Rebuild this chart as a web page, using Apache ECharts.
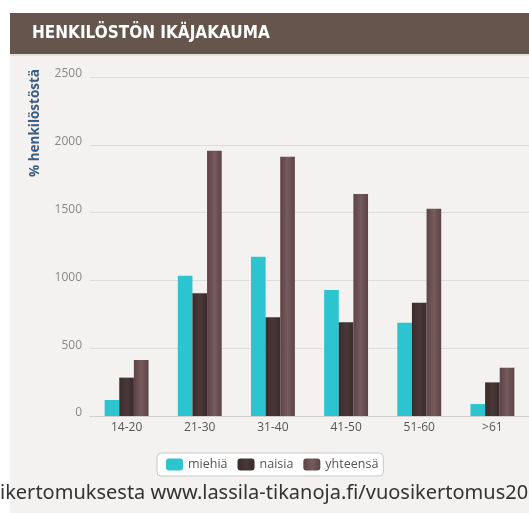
<!DOCTYPE html>
<html>
<head>
<meta charset="utf-8">
<script src="https://cdn.jsdelivr.net/npm/echarts@6/dist/echarts.min.js"></script>
<style>html,body{margin:0;padding:0;background:#fff;}#c{width:529px;height:513px;}</style>
</head>
<body>
<div id="c"></div>
<script>
const categories = ['14-20', '21-30', '31-40', '41-50', '51-60', '>61'];
const miehia = [118, 1035, 1175, 929, 688, 88];
const naisia = [283, 905, 728, 691, 836, 248];
const yhteensa = [413, 1957, 1912, 1637, 1529, 356];
const yTicks = { min: 0, max: 2500, interval: 500 };
const titleText = 'HENKILÖSTÖN IKÄJAKAUMA';
const axisTitle = '% henkilöstöstä';
const captionText = 'ikertomuksesta www.lassila-tikanoja.fi/vuosikertomus20';

function grad(a, b, c) {
  return new echarts.graphic.LinearGradient(0, 0, 1, 0, [
    { offset: 0, color: a }, { offset: 0.5, color: b }, { offset: 1, color: c }
  ]);
}

const chart = echarts.init(document.getElementById('c'), null, { renderer: 'canvas' });
chart.setOption({
  animation: false,
  backgroundColor: '#ffffff',
  graphic: [
    { type: 'rect', z: -10, shape: { x: 10, y: 54, width: 519, height: 459 }, style: { fill: '#f4f2f0' } },
    { type: 'rect', z: -5, shape: { x: 10, y: 13, width: 519, height: 41 }, style: { fill: '#65554c' } },
    { type: 'rect', z: -5, shape: { x: 10, y: 54, width: 519, height: 2 }, style: { fill: '#e4e0dc' } },
    { type: 'text', z: 10, x: 32, y: 34, style: { text: titleText, fill: '#ffffff', font: 'bold 17px "DejaVu Sans Condensed", "Liberation Sans Narrow", sans-serif', textVerticalAlign: 'middle' } },
    { type: 'text', z: 10, x: 35, y: 177, rotation: Math.PI / 2, style: { text: axisTitle, fill: '#3b5d82', font: 'bold 13.5px "Open Sans", sans-serif', textVerticalAlign: 'middle' } },
    { type: 'text', z: 10, x: 0, y: 493, style: { text: captionText, fill: '#333333', font: '20px "Noto Sans", sans-serif', textVerticalAlign: 'middle' } }
  ],
  legend: {
    left: 157, top: 453,
    data: ['miehiä', 'naisia', 'yhteensä'],
    icon: 'roundRect',
    itemWidth: 17, itemHeight: 12, itemGap: 10,
    backgroundColor: '#ffffff', borderColor: '#c8c8c8', borderWidth: 1, borderRadius: 4,
    padding: [5, 5, 5, 9],
    textStyle: { color: '#555', fontSize: 12.5, fontFamily: '"Open Sans", sans-serif' }
  },
  grid: { left: 90, right: -1, top: 77, bottom: 97 },
  xAxis: {
    type: 'category', data: categories,
    axisLine: { lineStyle: { color: '#cfcfcf' } },
    axisTick: { show: false },
    axisLabel: { color: '#555', fontSize: 12, fontFamily: '"Open Sans", sans-serif', margin: 6 }
  },
  yAxis: {
    type: 'value', min: yTicks.min, max: yTicks.max, interval: yTicks.interval,
    axisLine: { show: false }, axisTick: { show: false },
    axisLabel: { color: '#888', fontSize: 12, fontFamily: '"Open Sans", sans-serif', margin: 8, verticalAlign: 'bottom', padding: [0,0,-3,0], formatter: function (v) { return String(v); } },
    splitLine: { lineStyle: { color: '#dddddd' } }
  },
  series: [
    { name: 'miehiä', type: 'bar', data: miehia, barGap: '0%', barCategoryGap: '40%',
      itemStyle: { color: '#2bc4cf' } },
    { name: 'naisia', type: 'bar', data: naisia,
      itemStyle: { color: grad('#3a2b2b', '#4a3838', '#3a2b2b') } },
    { name: 'yhteensä', type: 'bar', data: yhteensa,
      itemStyle: { color: grad('#5c4345', '#765b5d', '#5c4345') } }
  ]
});
</script>
</body>
</html>
